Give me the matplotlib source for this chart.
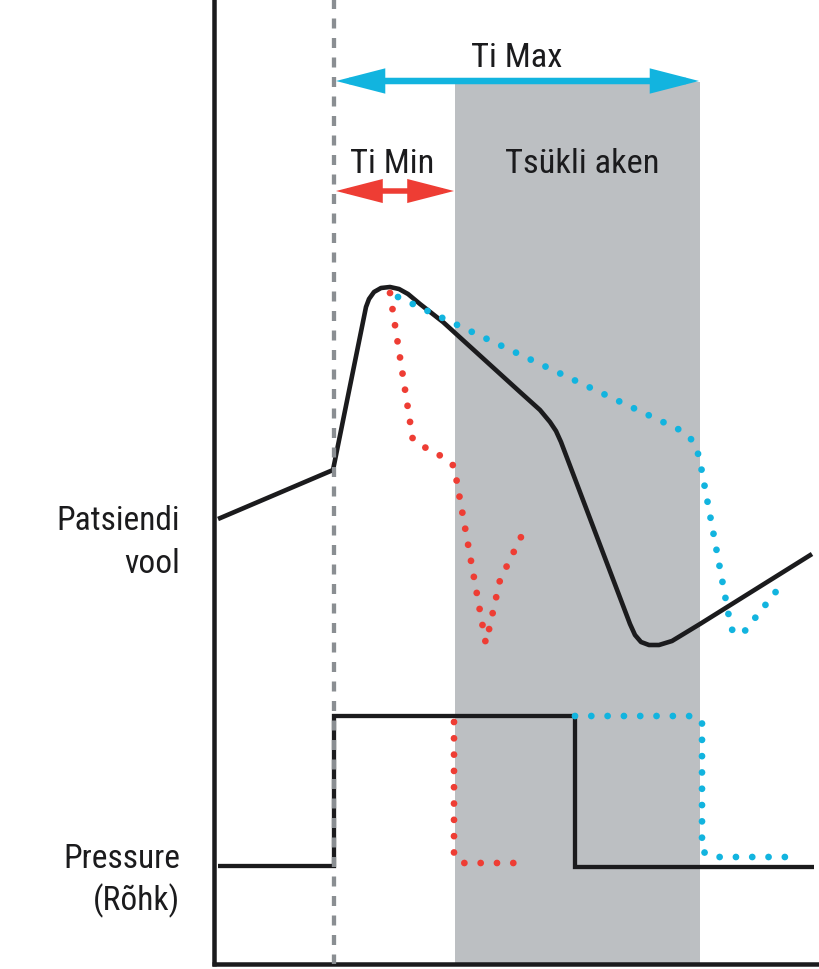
import matplotlib
matplotlib.use("Agg")
import matplotlib.pyplot as plt
from matplotlib.patches import Rectangle, FancyArrowPatch, ArrowStyle

# ---- data (diagram coordinates: x to the right, y downward) ----
flow_black_x = [218, 333, 366, 369, 374, 381, 390, 399, 408, 420, 443, 520, 540, 550, 556, 561, 630, 635, 641, 649, 659, 672, 700, 812]
flow_black_y = [520, 471, 308, 300, 293, 289, 288, 290, 295, 305, 323, 393, 411, 423, 432, 443, 625, 636, 643, 646, 646, 642, 625, 555]

flow_red_x = [390, 412.7, 426, 441, 454, 485.7, 489.3, 500, 522]
flow_red_y = [294, 440, 449, 457, 467, 644, 629.3, 581, 536]

flow_cyan_x = [398, 680, 692, 699, 729, 733, 744, 778]
flow_cyan_y = [298, 431, 441, 457, 618, 634, 633, 590]

press_black_x = [218, 334, 334, 575, 575, 814]
press_black_y = [867, 867, 717, 717, 868, 868]

press_red_x = [454, 454, 461, 516]
press_red_y = [723, 855, 864, 864]

press_cyan_x = [575, 689, 702, 702, 712, 800]
press_cyan_y = [717, 717, 722, 852, 858, 858]

trigger_x = 334
window_x = [455, 700]
ti_max = [335, 700]
ti_min = [335, 455]

labels_left = ["Patsiendi", "vool", "Pressure", "(Rõhk)"]
label_top = ["Ti Max", "Ti Min", "Tsükli aken"]

# ---- style ----
BLACK = "#1b1b1d"
RED = "#ee3d34"
CYAN = "#12b4df"
GREY = "#bcbfc2"
DASH = "#8a8e92"

plt.rcParams["font.family"] = ["Roboto Condensed", "DejaVu Sans"]

fig = plt.figure(figsize=(8.19, 9.70), dpi=100)
ax = fig.add_axes([0, 0, 1, 1])
ax.set_xlim(0, 819)
ax.set_ylim(970, 0)
ax.axis("off")

px = 72 / 100.0  # points per pixel

# cycle window
ax.add_patch(Rectangle((window_x[0], 83), window_x[1] - window_x[0], 965 - 83,
                       facecolor=GREY, edgecolor="none", zorder=1))

# axes lines
ax.plot([214, 214], [0, 967], color=BLACK, lw=4.5 * px, solid_capstyle="butt", zorder=3)
ax.plot([212, 819], [965, 965], color=BLACK, lw=4.5 * px, solid_capstyle="butt", zorder=3)

# black curves
ax.plot(flow_black_x, flow_black_y, color=BLACK, lw=4.6 * px, solid_joinstyle="round",
        solid_capstyle="butt", zorder=4)
ax.plot(press_black_x, press_black_y, color=BLACK, lw=4.3 * px, solid_joinstyle="miter",
        solid_capstyle="butt", zorder=4)

# dotted curves
dot_lw = 6.8 * px
dots = (0, (0.001, 16.3 / 6.8))
for xs, ys, c in [(flow_red_x, flow_red_y, RED), (flow_cyan_x, flow_cyan_y, CYAN),
                  (press_red_x, press_red_y, RED), (press_cyan_x, press_cyan_y, CYAN)]:
    ax.plot(xs, ys, color=c, lw=dot_lw, linestyle=dots, dash_capstyle="round", zorder=5)

# trigger dashed line
ax.plot([trigger_x, trigger_x], [0, 965], color=DASH, lw=4.3 * px,
        linestyle=(0, (10 / 4.3, 9.5 / 4.3)), dash_capstyle="butt", zorder=6)

# arrows
def darrow(x0, x1, y, color, shaft):
    st = ArrowStyle("<|-|>", head_length=33 * px, head_width=8.5 * px)
    a = FancyArrowPatch((x0, y), (x1, y), arrowstyle=st, mutation_scale=1,
                        color=color, lw=shaft * px, shrinkA=0, shrinkB=0,
                        joinstyle="miter", capstyle="butt", zorder=7)
    ax.add_patch(a)

darrow(ti_max[0] + 1, ti_max[1] - 1, 82, CYAN, 6.5)
darrow(ti_min[0] + 1, ti_min[1] - 1, 192, RED, 5.5)

fs = 34.5 * px
ax.text(517, 67, label_top[0], fontsize=fs, color=BLACK, ha="center", va="baseline", zorder=8)
ax.text(392, 173, label_top[1], fontsize=fs, color=BLACK, ha="center", va="baseline", zorder=8)
ax.text(582, 173, label_top[2], fontsize=fs, color=BLACK, ha="center", va="baseline", zorder=8)

fs2 = 33.5 * px
for s, yb in zip(labels_left, [530, 573, 868, 910]):
    ax.text(180, yb, s, fontsize=fs2, color=BLACK, ha="right", va="baseline")

fig.savefig("out.png", dpi=100)
